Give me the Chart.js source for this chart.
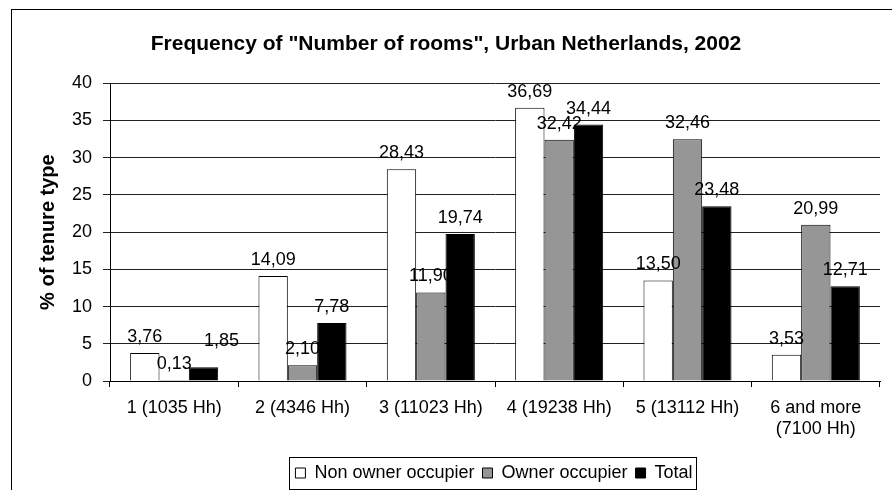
<!DOCTYPE html>
<html>
<head>
<meta charset="utf-8">
<script src="https://cdn.jsdelivr.net/npm/chart.js@4.4.1/dist/chart.umd.min.js"></script>
<style>
    html, body { margin: 0; padding: 0; background: #fff; }
    #wrap { width: 892px; height: 490px; }
</style>
</head>
<body>
<div id="wrap"><canvas id="roomsChart"></canvas></div>
<script>
// Data
const categories = [
    '1 (1035 Hh)', '2 (4346 Hh)', '3 (11023 Hh)', '4 (19238 Hh)', '5 (13112 Hh)',
    ['6 and more', '(7100 Hh)']
];
const seriesNames = ['Non owner occupier', 'Owner occupier', 'Total'];
const nonOwner = [3.76, 14.09, 28.43, 36.69, 13.50, 3.53];
const owner = [0.13, 2.10, 11.90, 32.42, 32.46, 20.99];
const total = [1.85, 7.78, 19.74, 34.44, 23.48, 12.71];
const yTicks = [0, 5, 10, 15, 20, 25, 30, 35, 40];

const fontFamily = "'Liberation Sans', Arial, sans-serif";
Chart.defaults.font.family = fontFamily;
Chart.defaults.color = '#000';

// Outer chart frame (only left and top edges show in the picture)
const framePlugin = {
    id: 'frame',
    beforeDraw(chart) {
        const ctx = chart.ctx;
        ctx.save();
        ctx.fillStyle = '#fff';
        ctx.fillRect(0, 0, chart.width, chart.height);
        ctx.strokeStyle = '#000';
        ctx.lineWidth = 1;
        ctx.strokeRect(11.5, 9.5, 1000, 1000);
        ctx.restore();
    }
};

// Value labels above each bar, comma as decimal separator
const valueLabels = {
    id: 'valueLabels',
    afterDatasetsDraw(chart) {
        const ctx = chart.ctx;
        ctx.save();
        ctx.font = '18px ' + fontFamily;
        ctx.fillStyle = '#000';
        ctx.textAlign = 'center';
        ctx.textBaseline = 'alphabetic';
        chart.data.datasets.forEach((ds, di) => {
            const meta = chart.getDatasetMeta(di);
            meta.data.forEach((bar, i) => {
                let dx = 0, dy = 0;
                // Excel pushed this one aside to avoid the 0,13 label
                if (di === 2 && i === 0) { dx = 18; dy = -10; }
                const txt = ds.data[i].toFixed(2).replace('.', ',');
                ctx.fillText(txt, bar.x + dx, bar.y - 11 + dy);
            });
        });
        ctx.restore();
    }
};

// The legend sits a bit right of the canvas centre (the frame goes on past the right edge)
const legendShift = { x: 48, y: 4 };
const legendBox = {
    id: 'legendBox',
    beforeDraw(chart) {
        const lg = chart.legend;
        lg.left += legendShift.x;
        lg.right += legendShift.x;
        lg.top += legendShift.y;
        lg.bottom += legendShift.y;
    },
    afterDraw(chart) {
        const boxes = chart.legend.legendHitBoxes;
        if (!boxes || !boxes.length) return;
        const left = Math.min(...boxes.map(b => b.left)) - 6 + legendShift.x;
        const right = Math.max(...boxes.map(b => b.left + b.width)) + 4 + legendShift.x;
        const top = boxes[0].top - 7 + legendShift.y;
        const bottom = boxes[0].top + boxes[0].height + 7 + legendShift.y;
        const ctx = chart.ctx;
        ctx.save();
        ctx.strokeStyle = '#000';
        ctx.lineWidth = 1;
        ctx.strokeRect(Math.round(left) + 0.5, Math.round(top) + 0.5,
            Math.round(right - left), Math.round(bottom - top));
        ctx.restore();
    }
};

const ctx = document.getElementById('roomsChart').getContext('2d');
const roomsChart = new Chart(ctx, {
    type: 'bar',
    data: {
        labels: categories,
        datasets: [{
            label: seriesNames[0],
            data: nonOwner,
            backgroundColor: '#ffffff',
            borderColor: '#000',
            borderWidth: 1
        }, {
            label: seriesNames[1],
            data: owner,
            backgroundColor: '#969696',
            borderColor: '#000',
            borderWidth: 1
        }, {
            label: seriesNames[2],
            data: total,
            backgroundColor: '#000000',
            borderColor: '#000',
            borderWidth: 1
        }]
    },
    options: {
        responsive: true,
        maintainAspectRatio: false,
        animation: false,
        layout: { padding: { left: 12, right: 12, top: 0, bottom: 2 } },
        datasets: {
            bar: { barPercentage: 1, categoryPercentage: 0.686 }
        },
        scales: {
            x: {
                grid: { drawOnChartArea: false, drawTicks: true, tickLength: 6, color: '#000', offset: true },
                border: { color: '#000' },
                ticks: { font: { size: 18 }, padding: 10, maxRotation: 0, autoSkip: false },
                afterFit(scale) { scale.height = 71; }
            },
            y: {
                min: yTicks[0],
                max: yTicks[yTicks.length - 1],
                afterBuildTicks(scale) { scale.ticks = yTicks.map(v => ({ value: v })); },
                grid: { color: '#222', tickLength: 7 },
                border: { color: '#000' },
                ticks: { font: { size: 18 }, padding: 11 },
                title: {
                    display: true,
                    text: '% of tenure type',
                    font: { size: 20, weight: 'bold' },
                    padding: { top: 24, bottom: 0 }
                },
                afterFit(scale) { scale.width = 98; }
            }
        },
        plugins: {
            title: {
                display: true,
                text: 'Frequency of "Number of rooms", Urban Netherlands, 2002',
                font: { size: 21, weight: 'bold' },
                padding: { top: 32, bottom: 26 }
            },
            legend: {
                position: 'bottom',
                labels: { boxWidth: 10, boxHeight: 10, padding: 8, font: { size: 18 } }
            },
            tooltip: { enabled: false }
        }
    },
    plugins: [framePlugin, valueLabels, legendBox]
});
</script>
</body>
</html>
